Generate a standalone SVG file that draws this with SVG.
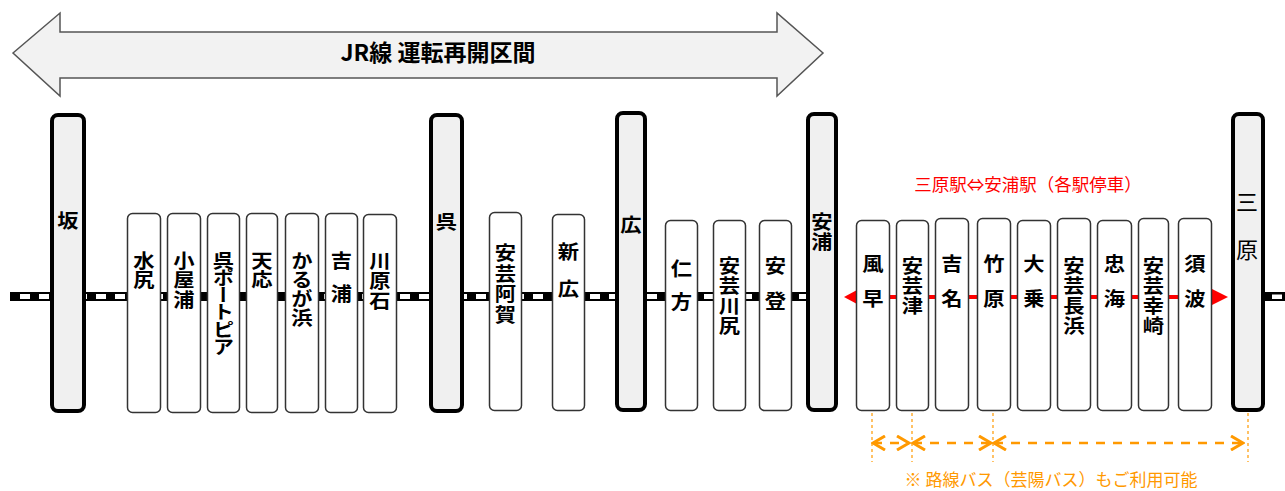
<svg xmlns="http://www.w3.org/2000/svg" width="1285" height="491" viewBox="0 0 1285 491">
<style>
.major{fill:#f0f0f0;stroke:#000;stroke-width:4}
.minor{fill:#fff;stroke:#333;stroke-width:1.5}
.vt{font-family:"Noto Sans CJK JP","Noto Sans CJK SC",sans-serif;font-size:19px;font-weight:700;fill:#000;writing-mode:vertical-rl}
.title{font-family:"Noto Sans CJK JP",sans-serif;font-size:23px;font-weight:700;fill:#000}
.red{font-family:"Noto Sans CJK JP",sans-serif;font-size:17.5px;fill:#ff0000}
.org{font-family:"Noto Sans CJK JP",sans-serif;font-size:17px;fill:#ff9900}
.tick{stroke:#ff9900;stroke-width:1.2;stroke-dasharray:3 3;fill:none}
.oarrow{stroke:#ff9900;stroke-width:2.5;stroke-dasharray:9 8;fill:none;marker-start:url(#chev);marker-end:url(#chev)}
</style>
<defs>
<marker id="chev" viewBox="0 0 16 16" refX="14" refY="8" markerWidth="16" markerHeight="16" markerUnits="userSpaceOnUse" orient="auto-start-reverse">
<path d="M2,1 L14,8 L2,15" fill="none" stroke="#ff9900" stroke-width="3"/>
</marker>
</defs>
<rect width="1285" height="491" fill="#fff"/>

<g id="banner">
<polygon points="13,53 60,13 60,32 777,32 777,13 823,53 777,96 777,78 60,78 60,96" fill="#f2f2f2" stroke="#555" stroke-width="1.5"/>
<text class="title" x="438" y="61" text-anchor="middle">JR線 運転再開区間</text>
</g>

<g id="connectors">
<rect x="10" y="292" width="828" height="9" fill="#000"/>
<line x1="20" y1="296.5" x2="838" y2="296.5" stroke="#fff" stroke-width="5" stroke-dasharray="10 9"/>
<rect x="1265" y="292" width="20" height="9" fill="#000"/>
<rect x="1272" y="294.5" width="10" height="4.5" fill="#fff"/>
<line x1="856" y1="297" x2="1213" y2="297" stroke="#ff0000" stroke-width="4"/>
<polygon points="844,297 857,290 857,304" fill="#ff0000"/>
<polygon points="1228,297 1212,289 1212,305" fill="#ff0000"/>
<line class="tick" x1="872" y1="413" x2="872" y2="462"/>
<line class="tick" x1="912" y1="413" x2="912" y2="462"/>
<line class="tick" x1="993" y1="413" x2="993" y2="462"/>
<line class="tick" x1="1248" y1="413" x2="1248" y2="462"/>
<line class="oarrow" x1="873" y1="443" x2="909" y2="443"/>
<line class="oarrow" x1="913" y1="443" x2="991" y2="443"/>
<line class="oarrow" x1="994" y1="443" x2="1243" y2="443"/>
</g>

<g id="st-saka"><rect class="major" x="52" y="115" width="32" height="296" rx="6"/><text class="vt" x="68" y="211" transform="matrix(1.12 0 0 1 -8.16 0)">坂</text></g>
<g id="st-mizushiri"><rect class="minor" x="127.5" y="213.5" width="33" height="199" rx="5"/><text class="vt" x="144" y="251" letter-spacing="0.5" transform="matrix(1.12 0 0 1 -17.28 0)">水尻</text></g>
<g id="st-koyaura"><rect class="minor" x="167.5" y="213.5" width="33" height="199" rx="5"/><text class="vt" x="184" y="251" letter-spacing="0.5" transform="matrix(1.12 0 0 1 -22.08 0)">小屋浦</text></g>
<g id="st-kureportopia"><rect class="minor" x="207.5" y="213.5" width="32" height="199" rx="5"/><text class="vt" x="223.5" y="251" letter-spacing="-1.8" transform="matrix(1.12 0 0 1 -26.82 0)">呉ポートピア</text></g>
<g id="st-tenno"><rect class="minor" x="246.5" y="213.5" width="31" height="199" rx="5"/><text class="vt" x="262" y="251" letter-spacing="0.5" transform="matrix(1.12 0 0 1 -31.44 0)">天応</text></g>
<g id="st-kurugahama"><rect class="minor" x="285.5" y="213.5" width="33" height="199" rx="5"/><text class="vt" x="302" y="251" letter-spacing="0" transform="matrix(1.12 0 0 1 -36.24 0)">かるが浜</text></g>
<g id="st-yoshiura"><rect class="minor" x="325.5" y="213.5" width="32" height="199" rx="5"/><text class="vt" x="341.5" y="251" letter-spacing="14" transform="matrix(1.12 0 0 1 -40.98 0)">吉浦</text></g>
<g id="st-kawaraishi"><rect class="minor" x="363.5" y="214.5" width="33" height="198" rx="5"/><text class="vt" x="380" y="251" letter-spacing="1" transform="matrix(1.12 0 0 1 -45.6 0)">川原石</text></g>
<g id="st-kure"><rect class="major" x="431" y="115" width="31" height="296" rx="6"/><text class="vt" x="446.5" y="212" transform="matrix(1.12 0 0 1 -53.58 0)">呉</text></g>
<g id="st-akiaga"><rect class="minor" x="489.5" y="212.5" width="32" height="198" rx="5"/><text class="vt" x="505.5" y="243" letter-spacing="1.8" transform="matrix(1.12 0 0 1 -60.66 0)">安芸阿賀</text></g>
<g id="st-shinhiro"><rect class="minor" x="552.5" y="214.5" width="32" height="196" rx="5"/><text class="vt" x="568.5" y="242" letter-spacing="18" transform="matrix(1.12 0 0 1 -68.22 0)">新広</text></g>
<g id="st-hiro"><rect class="major" x="617" y="113" width="28" height="297" rx="6"/><text class="vt" x="631" y="215" transform="matrix(1.12 0 0 1 -75.72 0)">広</text></g>
<g id="st-nigata"><rect class="minor" x="665.5" y="220.5" width="32" height="190" rx="5"/><text class="vt" x="681.5" y="259" letter-spacing="14" transform="matrix(1.12 0 0 1 -81.78 0)">仁方</text></g>
<g id="st-akikawajiri"><rect class="minor" x="713.5" y="220.5" width="32" height="190" rx="5"/><text class="vt" x="729.5" y="256" letter-spacing="1" transform="matrix(1.12 0 0 1 -87.54 0)">安芸川尻</text></g>
<g id="st-ato"><rect class="minor" x="759.5" y="220.5" width="32" height="190" rx="5"/><text class="vt" x="775.5" y="256" letter-spacing="16" transform="matrix(1.12 0 0 1 -93.06 0)">安登</text></g>
<g id="st-yasuura"><rect class="major" x="808" y="114" width="28" height="296" rx="6"/><text class="vt" x="822" y="212" letter-spacing="1" transform="matrix(1.12 0 0 1 -98.64 0)">安浦</text></g>
<g id="st-kazahaya"><rect class="minor" x="856.5" y="220.5" width="33" height="190" rx="5"/><text class="vt" x="873" y="254" letter-spacing="16" transform="matrix(1.12 0 0 1 -104.76 0)">風早</text></g>
<g id="st-akitsu"><rect class="minor" x="896.5" y="220.5" width="32" height="190" rx="5"/><text class="vt" x="912.5" y="256" letter-spacing="1" transform="matrix(1.12 0 0 1 -109.5 0)">安芸津</text></g>
<g id="st-yoshina"><rect class="minor" x="935.5" y="218.5" width="33" height="192" rx="5"/><text class="vt" x="952" y="254" letter-spacing="16" transform="matrix(1.12 0 0 1 -114.24 0)">吉名</text></g>
<g id="st-takehara"><rect class="minor" x="977.5" y="218.5" width="33" height="192" rx="5"/><text class="vt" x="994" y="254" letter-spacing="16" transform="matrix(1.12 0 0 1 -119.28 0)">竹原</text></g>
<g id="st-onori"><rect class="minor" x="1017.5" y="220.5" width="33" height="190" rx="5"/><text class="vt" x="1034" y="254" letter-spacing="16" transform="matrix(1.12 0 0 1 -124.08 0)">大乗</text></g>
<g id="st-akinagahama"><rect class="minor" x="1057.5" y="218.5" width="33" height="192" rx="5"/><text class="vt" x="1074" y="256" letter-spacing="1" transform="matrix(1.12 0 0 1 -128.88 0)">安芸長浜</text></g>
<g id="st-tadanoumi"><rect class="minor" x="1097.5" y="220.5" width="34" height="190" rx="5"/><text class="vt" x="1114.5" y="254" letter-spacing="16" transform="matrix(1.12 0 0 1 -133.74 0)">忠海</text></g>
<g id="st-akisaizaki"><rect class="minor" x="1138.5" y="218.5" width="30" height="192" rx="5"/><text class="vt" x="1153.5" y="256" letter-spacing="1" transform="matrix(1.12 0 0 1 -138.42 0)">安芸幸崎</text></g>
<g id="st-suba"><rect class="minor" x="1178.5" y="218.5" width="33" height="192" rx="5"/><text class="vt" x="1195" y="254" letter-spacing="16" transform="matrix(1.12 0 0 1 -143.4 0)">須波</text></g>
<g id="st-mihara"><rect class="major" x="1233" y="114" width="30" height="296" rx="6"/>
<text x="1247" y="200" font-family="'Noto Sans CJK JP',sans-serif" font-size="22" text-anchor="middle" dominant-baseline="central">三</text>
<text x="1247" y="248" font-family="'Noto Sans CJK JP',sans-serif" font-size="22" text-anchor="middle" dominant-baseline="central">原</text></g>

<g id="labels">
<text class="red" x="1028" y="191" text-anchor="middle">三原駅⇔安浦駅（各駅停車）</text>
<text class="org" x="1051" y="486" text-anchor="middle">※ 路線バス（芸陽バス）もご利用可能</text>
</g>
</svg>
